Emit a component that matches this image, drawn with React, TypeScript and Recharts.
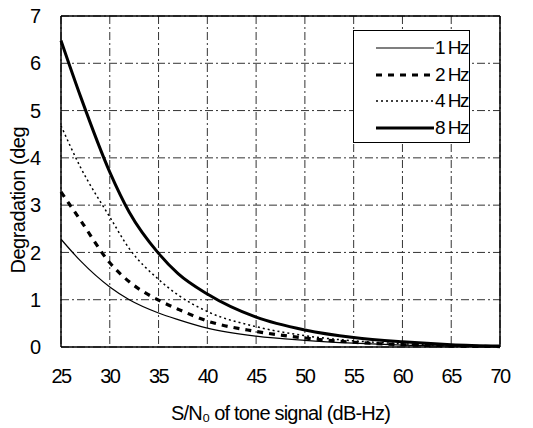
import React from "react";
import {
  LineChart,
  Line,
  XAxis,
  YAxis,
  CartesianGrid,
  ReferenceLine,
} from "recharts";

const snr = [25, 27, 30, 32, 35, 37, 40, 45, 50, 55, 60, 65, 70];
const hz1 = [2.28, 1.82, 1.27, 1.0, 0.72, 0.58, 0.4, 0.23, 0.14, 0.08, 0.04, 0.02, 0.01];
const hz2 = [3.28, 2.68, 1.78, 1.38, 0.99, 0.8, 0.55, 0.33, 0.19, 0.1, 0.05, 0.02, 0.01];
const hz4 = [4.68, 3.8, 2.75, 2.08, 1.43, 1.1, 0.75, 0.43, 0.24, 0.13, 0.07, 0.03, 0.02];
const hz8 = [6.48, 5.3, 3.7, 2.85, 1.98, 1.55, 1.12, 0.63, 0.36, 0.2, 0.11, 0.05, 0.02];

const xTicks = [25, 30, 35, 40, 45, 50, 55, 60, 65, 70];
const yTicks = [0, 1, 2, 3, 4, 5, 6, 7];

const data = snr.map((x, i) => ({
  x,
  hz1: hz1[i],
  hz2: hz2[i],
  hz4: hz4[i],
  hz8: hz8[i],
}));

const series = [
  { key: "hz1", name: "1 Hz", width: 1.2, dash: undefined },
  { key: "hz2", name: "2 Hz", width: 3.2, dash: "6 6" },
  { key: "hz4", name: "4 Hz", width: 1.5, dash: "2 3" },
  { key: "hz8", name: "8 Hz", width: 3, dash: undefined },
];

const font = "'Liberation Sans', Arial, sans-serif";

function LegendBox() {
  return (
    <div
      style={{
        position: "absolute",
        left: 353,
        top: 30,
        width: 115,
        height: 111,
        border: "1px solid #000",
        background: "#fff",
      }}
    >
      {series.map((s, i) => (
        <div
          key={s.key}
          style={{
            position: "absolute",
            left: 0,
            top: 6 + i * 26.5,
            display: "flex",
            alignItems: "center",
            height: 22,
            whiteSpace: "nowrap",
          }}
        >
          <svg width={80} height={22} style={{ flexShrink: 0 }}>
            <line
              x1={22}
              x2={80}
              y1={11}
              y2={11}
              stroke="#000"
              strokeWidth={s.width}
              strokeDasharray={s.dash}
            />
          </svg>
          <span
            style={{
              fontFamily: font,
              fontSize: 19,
              letterSpacing: -1.5,
              color: "#000",
              marginLeft: 1,
            }}
          >
            {s.name}
          </span>
        </div>
      ))}
    </div>
  );
}

export default function App() {
  return (
    <div
      style={{
        position: "absolute",
        left: 0,
        top: 0,
        width: 533,
        height: 428,
        background: "#fff",
      }}
    >
      <LineChart
        width={533}
        height={428}
        data={data}
        margin={{ top: 16, right: 33, left: 0, bottom: 0 }}
      >
        <CartesianGrid stroke="#333" strokeDasharray="8 3 2 3" strokeWidth={1} />
        <ReferenceLine y={7} stroke="#000" strokeWidth={1.5} />
        <ReferenceLine x={70} stroke="#000" strokeWidth={1.5} />
        <XAxis
          dataKey="x"
          type="number"
          domain={[25, 70]}
          ticks={xTicks}
          height={81}
          axisLine={{ stroke: "#000", strokeWidth: 1.5 }}
          tickLine={false}
          tickMargin={16}
          tick={{ fill: "#000", fontSize: 20, fontFamily: font, letterSpacing: -1.5 }}
          label={{
            value: "S/N\u2080 of tone signal (dB-Hz)",
            position: "insideBottom",
            offset: 8,
            fill: "#000",
            fontSize: 20,
            fontFamily: font,
            letterSpacing: -0.8,
          }}
        />
        <YAxis
          type="number"
          domain={[0, 7]}
          ticks={yTicks}
          width={61}
          axisLine={{ stroke: "#000", strokeWidth: 1.5 }}
          tickLine={false}
          tickMargin={14}
          tick={{ fill: "#000", fontSize: 20, fontFamily: font }}
          label={{
            value: "Degradation (deg",
            angle: -90,
            position: "insideLeft",
            offset: 18,
            dy: 92,
            fill: "#000",
            fontSize: 20,
            fontFamily: font,
            letterSpacing: -0.5,
          }}
        />
        {series.map((s) => (
          <Line
            key={s.key}
            dataKey={s.key}
            name={s.name}
            type="monotone"
            stroke="#000"
            strokeWidth={s.width}
            strokeDasharray={s.dash}
            dot={false}
            isAnimationActive={false}
          />
        ))}
      </LineChart>
      <LegendBox />
    </div>
  );
}
